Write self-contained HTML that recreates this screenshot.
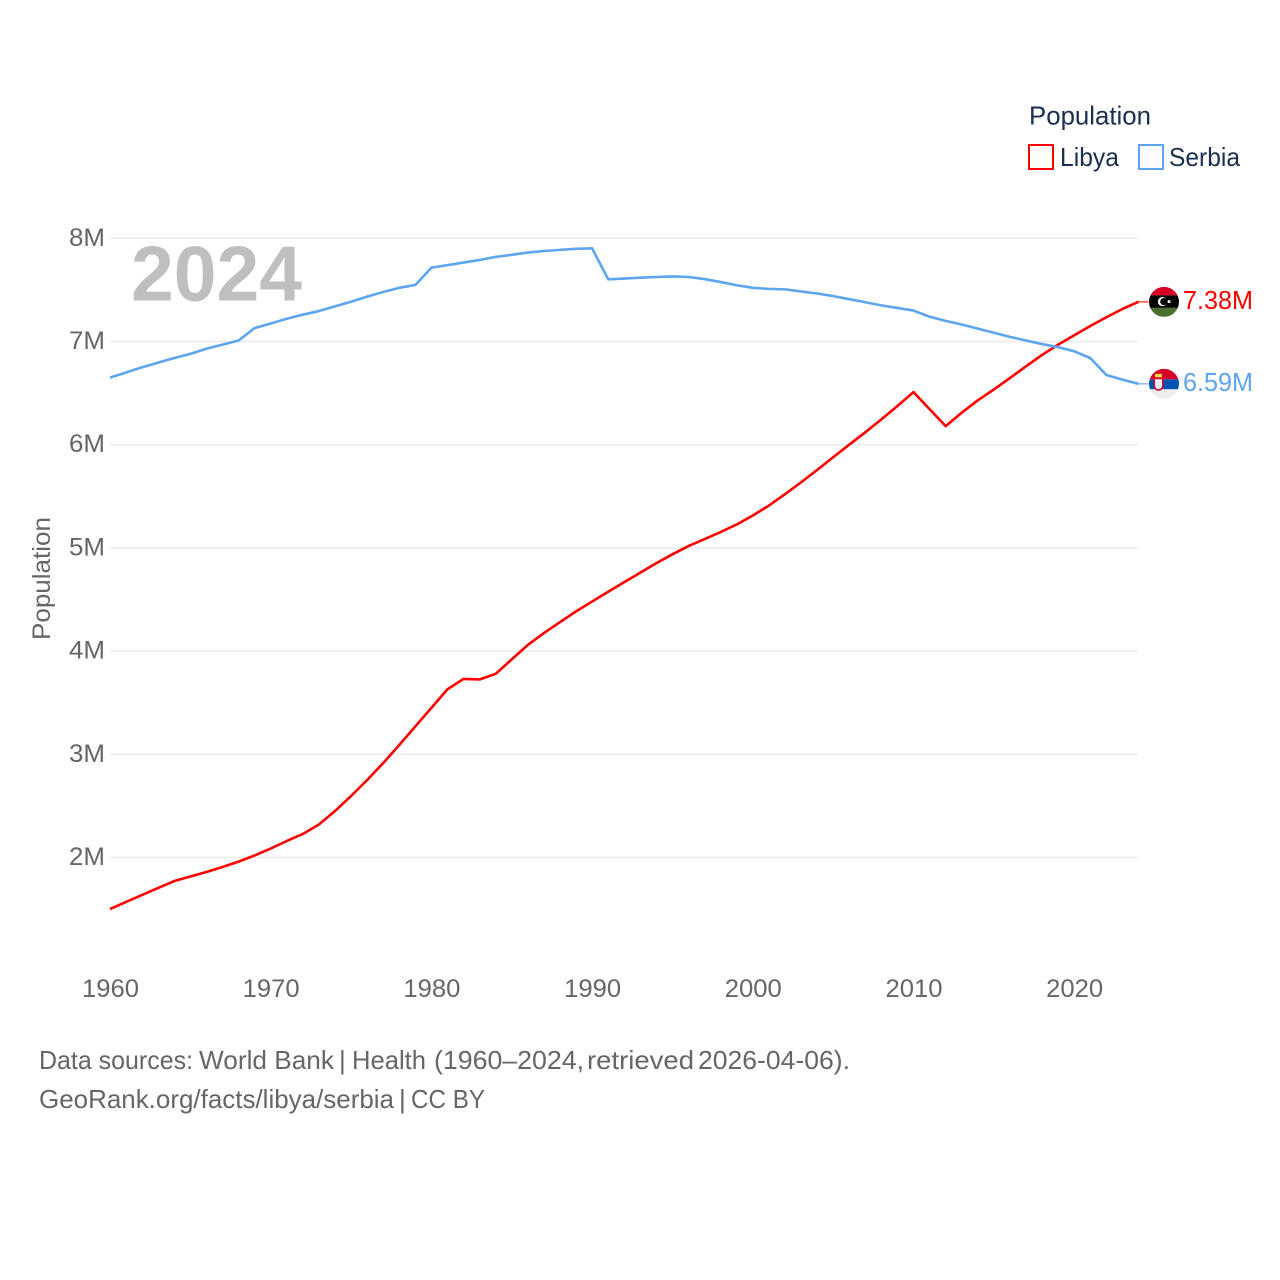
<!DOCTYPE html>
<html lang="en">
<head>
<meta charset="utf-8">
<title>Libya and Serbia population</title>
<style>
html,body{margin:0;padding:0;background:#fff;}
svg{display:block;}
text{font-family:"Liberation Sans",sans-serif;}
</style>
</head>
<body>
<svg id="chart" width="1280" height="1280" viewBox="0 0 1280 1280" xmlns="http://www.w3.org/2000/svg">
  <defs>
    <clipPath id="flag-clip"><circle cx="0" cy="0" r="15"/></clipPath>
  </defs>
  <rect width="1280" height="1280" fill="#fff"/>
  <g id="grid"></g>
  <g id="yticks"></g>
  <g id="xticks"></g>
  <text x="131" y="300.5" font-size="78" font-weight="700" fill="#bfbfbf" textLength="171" lengthAdjust="spacingAndGlyphs">2024</text>
  <text transform="translate(50,640) rotate(-90)" font-size="25" fill="#666" textLength="123" lengthAdjust="spacingAndGlyphs">Population</text>
  <g id="series"></g>

  <g id="flag-libya">
    <g clip-path="url(#flag-clip)">
      <rect x="-15" y="-15" width="30" height="8.5" fill="#d80027"/>
      <rect x="-15" y="-6.5" width="30" height="12.5" fill="#000"/>
      <rect x="-15" y="6" width="30" height="9" fill="#496e2d"/>
      <circle cx="-1.5" cy="-0.3" r="4.6" fill="#fff"/>
      <circle cx="-0.2" cy="-0.3" r="3.6" fill="#000"/>
      <circle cx="5" cy="-0.3" r="1.5" fill="#fff"/>
    </g>
  </g>
  <g id="flag-serbia">
    <g clip-path="url(#flag-clip)">
      <rect x="-15" y="-15" width="30" height="10.5" fill="#d80027"/>
      <rect x="-15" y="-4.5" width="30" height="10" fill="#0052b4"/>
      <rect x="-15" y="5.5" width="30" height="10" fill="#eeeeee"/>
      <rect x="-9" y="-10" width="7" height="3.5" fill="#ffda44"/>
      <path d="M-10.5-6h10v8a5 5 0 0 1-10 0z" fill="#d80027"/>
      <path d="M-9-4.5h7v6.5a3.5 3.5 0 0 1-7 0z" fill="#eeeeee"/>
    </g>
  </g>
  <g id="end-labels"></g>

  <g>
    <text x="1029" y="124.5" font-size="26" fill="#1a2f4f" textLength="122" lengthAdjust="spacingAndGlyphs">Population</text>
    <g>
      <rect x="1029" y="145" width="24" height="24" fill="#fff" stroke="#ff0000" stroke-width="2"/>
      <text x="1060" y="166" font-size="26" fill="#1a2f4f" textLength="59" lengthAdjust="spacingAndGlyphs">Libya</text>
    </g>
    <g>
      <rect x="1139" y="145" width="24" height="24" fill="#fff" stroke="#5da5ee" stroke-width="2"/>
      <text x="1169" y="166" font-size="26" fill="#1a2f4f" textLength="71" lengthAdjust="spacingAndGlyphs">Serbia</text>
    </g>
  </g>

  <text y="1069" font-size="26" fill="#666"><tspan x="39" textLength="154" lengthAdjust="spacingAndGlyphs">Data sources:</tspan> <tspan x="199" textLength="135" lengthAdjust="spacingAndGlyphs">World Bank</tspan> <tspan x="339">|</tspan> <tspan x="352" textLength="74" lengthAdjust="spacingAndGlyphs">Health</tspan> <tspan x="434" textLength="150" lengthAdjust="spacingAndGlyphs">(1960–2024,</tspan> <tspan x="587" textLength="107" lengthAdjust="spacingAndGlyphs">retrieved</tspan> <tspan x="698" textLength="152" lengthAdjust="spacingAndGlyphs">2026-04-06).</tspan></text>
  <text y="1108" font-size="26" fill="#666"><tspan x="39" textLength="355" lengthAdjust="spacingAndGlyphs">GeoRank.org/facts/libya/serbia</tspan> <tspan x="399">|</tspan> <tspan x="411" textLength="74" lengthAdjust="spacingAndGlyphs">CC BY</tspan></text>
</svg>
<script>
const startYear = 1960;
const libyaValues = [1.50,1.57,1.637,1.705,1.772,1.816,1.86,1.908,1.96,2.02,2.087,2.16,2.228,2.32,2.45,2.596,2.75,2.915,3.09,3.27,3.45,3.63,3.73,3.725,3.78,3.92,4.06,4.175,4.28,4.385,4.48,4.575,4.668,4.76,4.852,4.938,5.018,5.086,5.154,5.227,5.314,5.41,5.52,5.635,5.755,5.878,6.0,6.12,6.245,6.375,6.51,6.345,6.18,6.31,6.43,6.535,6.646,6.76,6.87,6.97,7.06,7.15,7.235,7.315,7.384];
const serbiaValues = [6.65,6.70,6.75,6.795,6.84,6.88,6.93,6.97,7.01,7.13,7.175,7.22,7.26,7.295,7.34,7.385,7.435,7.48,7.52,7.548,7.715,7.74,7.765,7.79,7.82,7.84,7.862,7.877,7.888,7.898,7.903,7.603,7.61,7.618,7.625,7.63,7.625,7.605,7.576,7.545,7.52,7.51,7.505,7.485,7.465,7.44,7.41,7.38,7.35,7.325,7.30,7.24,7.20,7.165,7.125,7.085,7.045,7.01,6.975,6.945,6.905,6.84,6.675,6.63,6.59];
const yTickValues = [2,3,4,5,6,7,8];
const xTickValues = [1960,1970,1980,1990,2000,2010,2020];

const NS = 'http://www.w3.org/2000/svg';
function xScale(year){ return 110 + (year - 1960) * 16.07; }
function yScale(v){ return 857.5 - (v - 2) * 103.2; }
function make(tag, attrs, parent, txt){
  const el = document.createElementNS(NS, tag);
  for (const k in attrs) el.setAttribute(k, attrs[k]);
  if (txt !== undefined) el.textContent = txt;
  parent.appendChild(el);
  return el;
}
const grid = document.getElementById('grid');
const yticks = document.getElementById('yticks');
const xticks = document.getElementById('xticks');
const series = document.getElementById('series');
const endLabels = document.getElementById('end-labels');

yTickValues.forEach(function(v){
  const line = make('line', {x1:110, x2:1138, y1:yScale(v), y2:yScale(v), stroke:'#ebebeb', 'stroke-width':1.5}, grid);
  
  
  const t = make('text', {x:105, y:yScale(v)+7.5, 'text-anchor':'end', 'font-size':25, fill:'#666', textLength:36, lengthAdjust:'spacingAndGlyphs'}, yticks, v + 'M');
  
  
});
xTickValues.forEach(function(y){
  const t = make('text', {x:xScale(y)+0.5, y:997, 'text-anchor':'middle', 'font-size':25, fill:'#666', textLength:57, lengthAdjust:'spacingAndGlyphs'}, xticks, String(y));
  
  
});
function pathOf(values){
  return values.map(function(v,i){
    return (i ? 'L' : 'M') + xScale(startYear + i).toFixed(2) + ' ' + yScale(v).toFixed(2);
  }).join(' ');
}
function drawSeries(values, color){
  const last = values[values.length - 1];
  const lastYear = startYear + values.length - 1;
  const line = make('path', {d:pathOf(values), fill:'none', stroke:color, 'stroke-width':2.6, 'stroke-linejoin':'round'}, series);
  const conn = make('line', {x1:xScale(lastYear), x2:xScale(lastYear)+10, y1:yScale(last), y2:yScale(last), stroke:color, 'stroke-width':1.5, opacity:0.7}, series);
  const label = make('text', {x:1183, y:yScale(last)+7, 'font-size':26, fill:color, textLength:70, lengthAdjust:'spacingAndGlyphs'}, endLabels, last.toFixed(2) + 'M');
  return {line:line, conn:conn, label:label, y:yScale(last)};
}
const libya = drawSeries(libyaValues, '#ff0000');






const serbia = drawSeries(serbiaValues, '#5da5ee');






document.getElementById('flag-libya').setAttribute('transform', 'translate(1164,' + libya.y + ')');
document.getElementById('flag-serbia').setAttribute('transform', 'translate(1164,' + serbia.y + ')');
</script>
</body>
</html>
